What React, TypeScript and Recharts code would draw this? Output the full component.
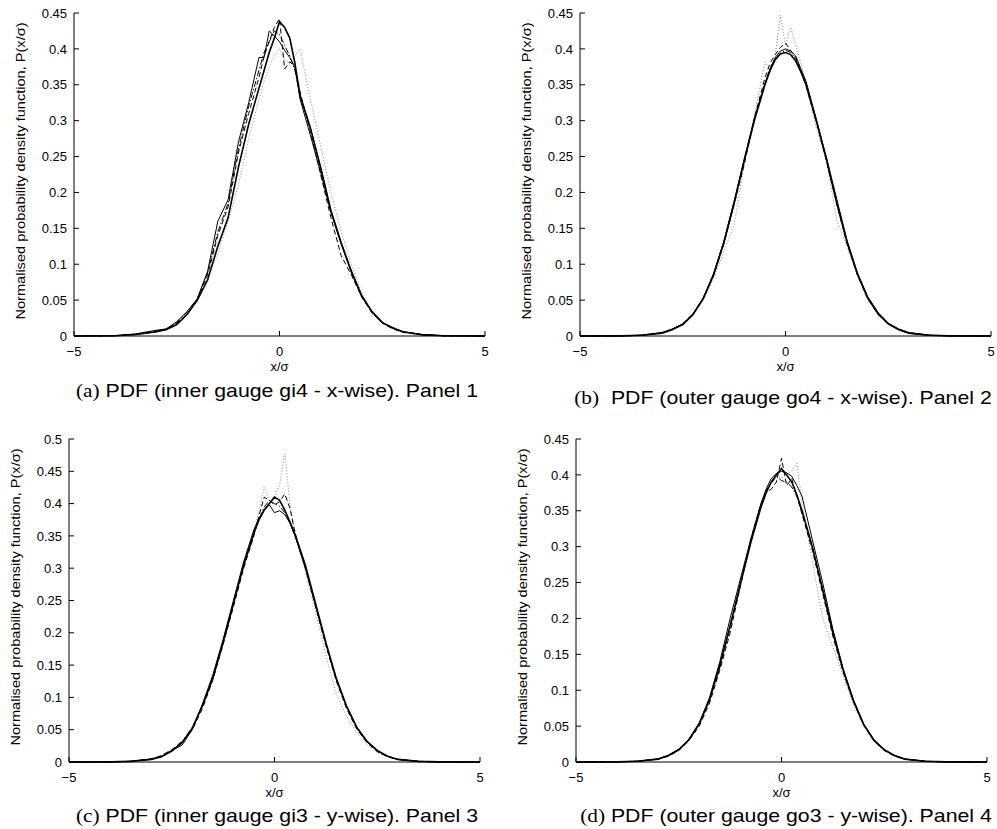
import React from "react";
import { LineChart, Line, XAxis, YAxis } from "recharts";

// x/σ grid shared by every curve
const xs = [
  -5, -4, -3.5, -3, -2.75, -2.5, -2.25, -2,
  -1.75, -1.5, -1.25, -1, -0.75, -0.5,
  -0.375, -0.25, -0.125, 0, 0.125, 0.25, 0.375,
  0.5, 0.75, 1, 1.25, 1.5, 1.75,
  2, 2.25, 2.5, 2.75, 3, 3.5, 4, 5,
];

const xTicks = [-5, 0, 5];
const yTicks45 = [0, 0.05, 0.1, 0.15, 0.2, 0.25, 0.3, 0.35, 0.4, 0.45];
const yTicks50 = [0, 0.05, 0.1, 0.15, 0.2, 0.25, 0.3, 0.35, 0.4, 0.45, 0.5];

// Panel 1 - inner gauge gi4, x-wise
const p1Solid = [
  0, 0.0003, 0.002, 0.006, 0.009, 0.016, 0.03, 0.05,
  0.078, 0.125, 0.165, 0.235, 0.295, 0.345,
  0.37, 0.395, 0.415, 0.438, 0.43, 0.415, 0.38,
  0.335, 0.29, 0.235, 0.175, 0.13, 0.09,
  0.056, 0.034, 0.019, 0.011, 0.006, 0.0015, 0.0003, 0,
];
const p1Thin = [
  0, 0.0005, 0.003, 0.008, 0.01, 0.02, 0.034, 0.052,
  0.09, 0.16, 0.19, 0.27, 0.325, 0.388,
  0.388, 0.425, 0.418, 0.41, 0.398, 0.388, 0.375,
  0.33, 0.28, 0.228, 0.172, 0.128, 0.088,
  0.055, 0.033, 0.018, 0.012, 0.006, 0.002, 0.0004, 0,
];
const p1Dash = [
  0, 0.0004, 0.0025, 0.007, 0.009, 0.018, 0.03, 0.05,
  0.085, 0.14, 0.18, 0.255, 0.31, 0.36,
  0.39, 0.41, 0.43, 0.442, 0.372, 0.382, 0.375,
  0.34, 0.285, 0.225, 0.165, 0.112, 0.085,
  0.054, 0.032, 0.018, 0.01, 0.005, 0.0015, 0.0003, 0,
];
const p1DashDot = [
  0, 0.0004, 0.002, 0.006, 0.01, 0.019, 0.033, 0.052,
  0.088, 0.145, 0.185, 0.26, 0.32, 0.37,
  0.395, 0.41, 0.425, 0.42, 0.405, 0.39, 0.37,
  0.335, 0.29, 0.235, 0.175, 0.13, 0.09,
  0.056, 0.034, 0.019, 0.012, 0.006, 0.0015, 0.0003, 0,
];
const p1Dot = [
  0, 0.0003, 0.002, 0.005, 0.008, 0.016, 0.03, 0.048,
  0.08, 0.115, 0.16, 0.21, 0.275, 0.33,
  0.355, 0.375, 0.39, 0.4, 0.385, 0.38, 0.39,
  0.4, 0.33, 0.265, 0.2, 0.145, 0.1,
  0.06, 0.035, 0.02, 0.012, 0.006, 0.002, 0.0004, 0,
];

// Panel 2 - outer gauge go4, x-wise
const p2Solid = [
  0, 0.0002, 0.001, 0.004, 0.009, 0.016, 0.03, 0.052,
  0.085, 0.13, 0.185, 0.245, 0.302, 0.35,
  0.37, 0.385, 0.393, 0.395, 0.392, 0.383, 0.368,
  0.35, 0.3, 0.245, 0.185, 0.13, 0.086,
  0.053, 0.031, 0.017, 0.009, 0.004, 0.001, 0.0002, 0,
];
const p2Thin = [
  0, 0.0003, 0.0012, 0.005, 0.01, 0.017, 0.031, 0.053,
  0.087, 0.132, 0.188, 0.248, 0.305, 0.352,
  0.372, 0.388, 0.397, 0.4, 0.397, 0.39, 0.372,
  0.355, 0.302, 0.248, 0.19, 0.133, 0.088,
  0.055, 0.033, 0.018, 0.01, 0.005, 0.0012, 0.0003, 0,
];
const p2Dash = [
  0, 0.0002, 0.001, 0.0045, 0.009, 0.017, 0.031, 0.053,
  0.084, 0.128, 0.183, 0.24, 0.305, 0.36,
  0.38, 0.392, 0.402, 0.408, 0.398, 0.388, 0.37,
  0.348, 0.298, 0.243, 0.183, 0.128, 0.085,
  0.052, 0.03, 0.017, 0.009, 0.004, 0.001, 0.0002, 0,
];
const p2DashDot = [
  0, 0.0002, 0.0011, 0.0042, 0.0095, 0.0165, 0.0305, 0.0535,
  0.0865, 0.131, 0.186, 0.246, 0.303, 0.351,
  0.374, 0.386, 0.394, 0.398, 0.395, 0.386, 0.368,
  0.35, 0.301, 0.244, 0.184, 0.131, 0.087,
  0.054, 0.032, 0.017, 0.009, 0.004, 0.001, 0.0002, 0,
];
const p2Dot = [
  0, 0.0002, 0.0008, 0.0035, 0.008, 0.015, 0.028, 0.05,
  0.08, 0.118, 0.155, 0.24, 0.31, 0.382,
  0.37, 0.39, 0.447, 0.405, 0.43, 0.405, 0.38,
  0.35, 0.29, 0.245, 0.16, 0.125, 0.085,
  0.05, 0.03, 0.016, 0.008, 0.004, 0.001, 0.0002, 0,
];

// Panel 3 - inner gauge gi3, y-wise
const p3Solid = [
  0, 0.0002, 0.001, 0.004, 0.008, 0.017, 0.03, 0.052,
  0.088, 0.13, 0.185, 0.245, 0.305, 0.355,
  0.375, 0.39, 0.4, 0.41, 0.405, 0.39, 0.372,
  0.352, 0.305, 0.245, 0.185, 0.13, 0.087,
  0.054, 0.032, 0.018, 0.009, 0.004, 0.001, 0.0002, 0,
];
const p3Thin = [
  0, 0.0003, 0.0012, 0.0045, 0.009, 0.018, 0.026, 0.05,
  0.09, 0.135, 0.19, 0.25, 0.31, 0.36,
  0.378, 0.39, 0.398, 0.386, 0.389, 0.383, 0.37,
  0.35, 0.3, 0.242, 0.183, 0.128, 0.086,
  0.053, 0.031, 0.017, 0.009, 0.004, 0.001, 0.0002, 0,
];
const p3Dash = [
  0, 0.0002, 0.001, 0.005, 0.01, 0.019, 0.032, 0.05,
  0.083, 0.127, 0.182, 0.24, 0.3, 0.35,
  0.382, 0.41, 0.405, 0.398, 0.403, 0.415, 0.393,
  0.355, 0.3, 0.24, 0.18, 0.126, 0.083,
  0.051, 0.03, 0.016, 0.008, 0.004, 0.001, 0.0002, 0,
];
const p3DashDot = [
  0, 0.0002, 0.0011, 0.0042, 0.0085, 0.0175, 0.031, 0.054,
  0.087, 0.131, 0.186, 0.246, 0.303, 0.353,
  0.376, 0.395, 0.405, 0.4, 0.396, 0.386, 0.37,
  0.35, 0.303, 0.244, 0.184, 0.13, 0.086,
  0.053, 0.031, 0.017, 0.009, 0.004, 0.001, 0.0002, 0,
];
const p3Dot = [
  0, 0.0002, 0.0009, 0.0042, 0.0088, 0.017, 0.031, 0.053,
  0.086, 0.128, 0.183, 0.242, 0.305, 0.355,
  0.39, 0.426, 0.405, 0.41, 0.43, 0.478, 0.4,
  0.355, 0.295, 0.232, 0.165, 0.105, 0.072,
  0.046, 0.028, 0.015, 0.008, 0.004, 0.001, 0.0002, 0,
];

// Panel 4 - outer gauge go3, y-wise
const p4Solid = [
  0, 0.0002, 0.001, 0.004, 0.009, 0.017, 0.031, 0.053,
  0.087, 0.135, 0.19, 0.248, 0.305, 0.355,
  0.375, 0.39, 0.4, 0.409, 0.4, 0.39, 0.372,
  0.35, 0.3, 0.24, 0.18, 0.128, 0.085,
  0.052, 0.03, 0.017, 0.009, 0.004, 0.001, 0.0002, 0,
];
const p4Thin = [
  0, 0.0003, 0.0012, 0.0045, 0.0095, 0.018, 0.032, 0.055,
  0.09, 0.14, 0.2, 0.255, 0.31, 0.36,
  0.38, 0.395, 0.402, 0.405, 0.403, 0.398, 0.385,
  0.37, 0.31, 0.25, 0.185, 0.13, 0.087,
  0.053, 0.031, 0.017, 0.009, 0.004, 0.001, 0.0002, 0,
];
const p4Dash = [
  0, 0.0002, 0.001, 0.004, 0.008, 0.016, 0.03, 0.05,
  0.082, 0.128, 0.18, 0.245, 0.31, 0.36,
  0.375, 0.38, 0.39, 0.423, 0.385, 0.395, 0.37,
  0.345, 0.295, 0.235, 0.175, 0.125, 0.084,
  0.051, 0.03, 0.016, 0.008, 0.004, 0.001, 0.0002, 0,
];
const p4DashDot = [
  0, 0.0002, 0.0011, 0.0042, 0.0088, 0.0172, 0.0312, 0.0535,
  0.0865, 0.132, 0.187, 0.247, 0.307, 0.357,
  0.378, 0.388, 0.398, 0.392, 0.39, 0.383, 0.37,
  0.348, 0.3, 0.242, 0.182, 0.128, 0.086,
  0.053, 0.031, 0.017, 0.009, 0.004, 0.001, 0.0002, 0,
];
const p4Dot = [
  0, 0.0002, 0.001, 0.0042, 0.0088, 0.017, 0.031, 0.053,
  0.087, 0.132, 0.188, 0.25, 0.31, 0.36,
  0.378, 0.39, 0.398, 0.395, 0.4, 0.405, 0.416,
  0.36, 0.28, 0.2, 0.16, 0.12, 0.08,
  0.05, 0.029, 0.016, 0.008, 0.004, 0.001, 0.0002, 0,
];

const SANS = "'Liberation Sans', Arial, Helvetica, sans-serif";
const SERIF = "'Liberation Serif', 'Times New Roman', serif";

// line styles, drawn back to front
const styles = [
  { key: "dot", stroke: "#8a8a8a", width: 1, dash: "1 2" },
  { key: "dashdot", stroke: "#000", width: 1, dash: "6 2 1.5 2" },
  { key: "dash", stroke: "#000", width: 1, dash: "5 3" },
  { key: "thin", stroke: "#000", width: 1, dash: undefined },
  { key: "solid", stroke: "#000", width: 1.6, dash: undefined },
];

const fmtX = (v: number) => (v < 0 ? "\u2212" + Math.abs(v) : String(v));

function Panel({
  plotLeft,
  plotTop,
  yMax,
  yTicks,
  series,
  tag,
  caption,
  capX,
  capY,
}: {
  plotLeft: number;
  plotTop: number;
  yMax: number;
  yTicks: number[];
  series: { dot: number[]; dashdot: number[]; dash: number[]; thin: number[]; solid: number[] };
  tag: string;
  caption: string;
  capX: number;
  capY: number;
}) {
  const data = xs.map((x, i) => ({
    x,
    dot: series.dot[i],
    dashdot: series.dashdot[i],
    dash: series.dash[i],
    thin: series.thin[i],
    solid: series.solid[i],
  }));
  const tickStyle = { fontSize: 13, fontFamily: SANS, fill: "#000" };

  return (
    <>
      <div style={{ position: "absolute", left: plotLeft - 74, top: plotTop - 13 }}>
        <LineChart
          width={491}
          height={376}
          data={data}
          margin={{ top: 13, right: 6, bottom: 5, left: 0 }}
        >
          <XAxis
            dataKey="x"
            type="number"
            domain={[-5, 5]}
            ticks={xTicks}
            interval={0}
            tickFormatter={fmtX}
            height={35}
            tickSize={-5}
            tickMargin={16}
            stroke="#000"
            tick={tickStyle}
            label={{ value: "x/\u03c3", position: "insideBottom", offset: 0, fontSize: 13, fontFamily: SANS, fill: "#000" }}
          />
          <XAxis
            xAxisId="top"
            orientation="top"
            dataKey="x"
            type="number"
            domain={[-5, 5]}
            ticks={xTicks}
            interval={0}
            height={0}
            tickSize={-5}
            tick={false}
            stroke="#000"
          />
          <YAxis
            type="number"
            domain={[0, yMax]}
            ticks={yTicks}
            interval={0}
            width={74}
            tickSize={-5}
            tickMargin={12}
            stroke="#000"
            tick={tickStyle}
          />
          <YAxis
            yAxisId="right"
            orientation="right"
            type="number"
            domain={[0, yMax]}
            ticks={yTicks}
            interval={0}
            width={0}
            tickSize={-5}
            tick={false}
            stroke="#000"
          />
          {styles.map((s) => (
            <Line
              key={s.key}
              type="linear"
              dataKey={s.key}
              stroke={s.stroke}
              strokeWidth={s.width}
              strokeDasharray={s.dash}
              dot={false}
              activeDot={false}
              isAnimationActive={false}
            />
          ))}
        </LineChart>
      </div>
      <div
        style={{
          position: "absolute",
          left: plotLeft - 54,
          top: plotTop + 161.5 - 4,
          transform: "translate(-50%, -50%) rotate(-90deg) scaleX(1.12)",
          whiteSpace: "nowrap",
          fontFamily: SANS,
          fontSize: 13,
          color: "#000",
        }}
      >
        Normalised probability density function, P(x/σ)
      </div>
      <div
        style={{
          position: "absolute",
          left: capX,
          top: capY,
          transform: "translate(-50%, -50%) scaleX(1.12)",
          whiteSpace: "pre",
          fontFamily: SANS,
          fontSize: 19,
          color: "#000",
          lineHeight: 1,
        }}
      >
        <span style={{ fontFamily: SERIF }}>{tag}</span>
        {caption}
      </div>
    </>
  );
}

export default function App() {
  return (
    <div
      style={{
        position: "absolute",
        left: 0,
        top: 0,
        width: 997,
        height: 829,
        overflow: "hidden",
        background: "#fff",
      }}
    >
      <Panel
        plotLeft={74}
        plotTop={13}
        yMax={0.45}
        yTicks={yTicks45}
        series={{ dot: p1Dot, dashdot: p1DashDot, dash: p1Dash, thin: p1Thin, solid: p1Solid }}
        tag="(a)"
        caption=" PDF (inner gauge gi4 - x-wise). Panel 1"
        capX={277}
        capY={390}
      />
      <Panel
        plotLeft={580}
        plotTop={13}
        yMax={0.45}
        yTicks={yTicks45}
        series={{ dot: p2Dot, dashdot: p2DashDot, dash: p2Dash, thin: p2Thin, solid: p2Solid }}
        tag="(b)"
        caption="  PDF (outer gauge go4 - x-wise). Panel 2"
        capX={783}
        capY={397}
      />
      <Panel
        plotLeft={69}
        plotTop={439}
        yMax={0.5}
        yTicks={yTicks50}
        series={{ dot: p3Dot, dashdot: p3DashDot, dash: p3Dash, thin: p3Thin, solid: p3Solid }}
        tag="(c)"
        caption=" PDF (inner gauge gi3 - y-wise). Panel 3"
        capX={277}
        capY={815}
      />
      <Panel
        plotLeft={576}
        plotTop={439}
        yMax={0.45}
        yTicks={yTicks45}
        series={{ dot: p4Dot, dashdot: p4DashDot, dash: p4Dash, thin: p4Thin, solid: p4Solid }}
        tag="(d)"
        caption=" PDF (outer gauge go3 - y-wise). Panel 4"
        capX={786}
        capY={815}
      />
    </div>
  );
}
